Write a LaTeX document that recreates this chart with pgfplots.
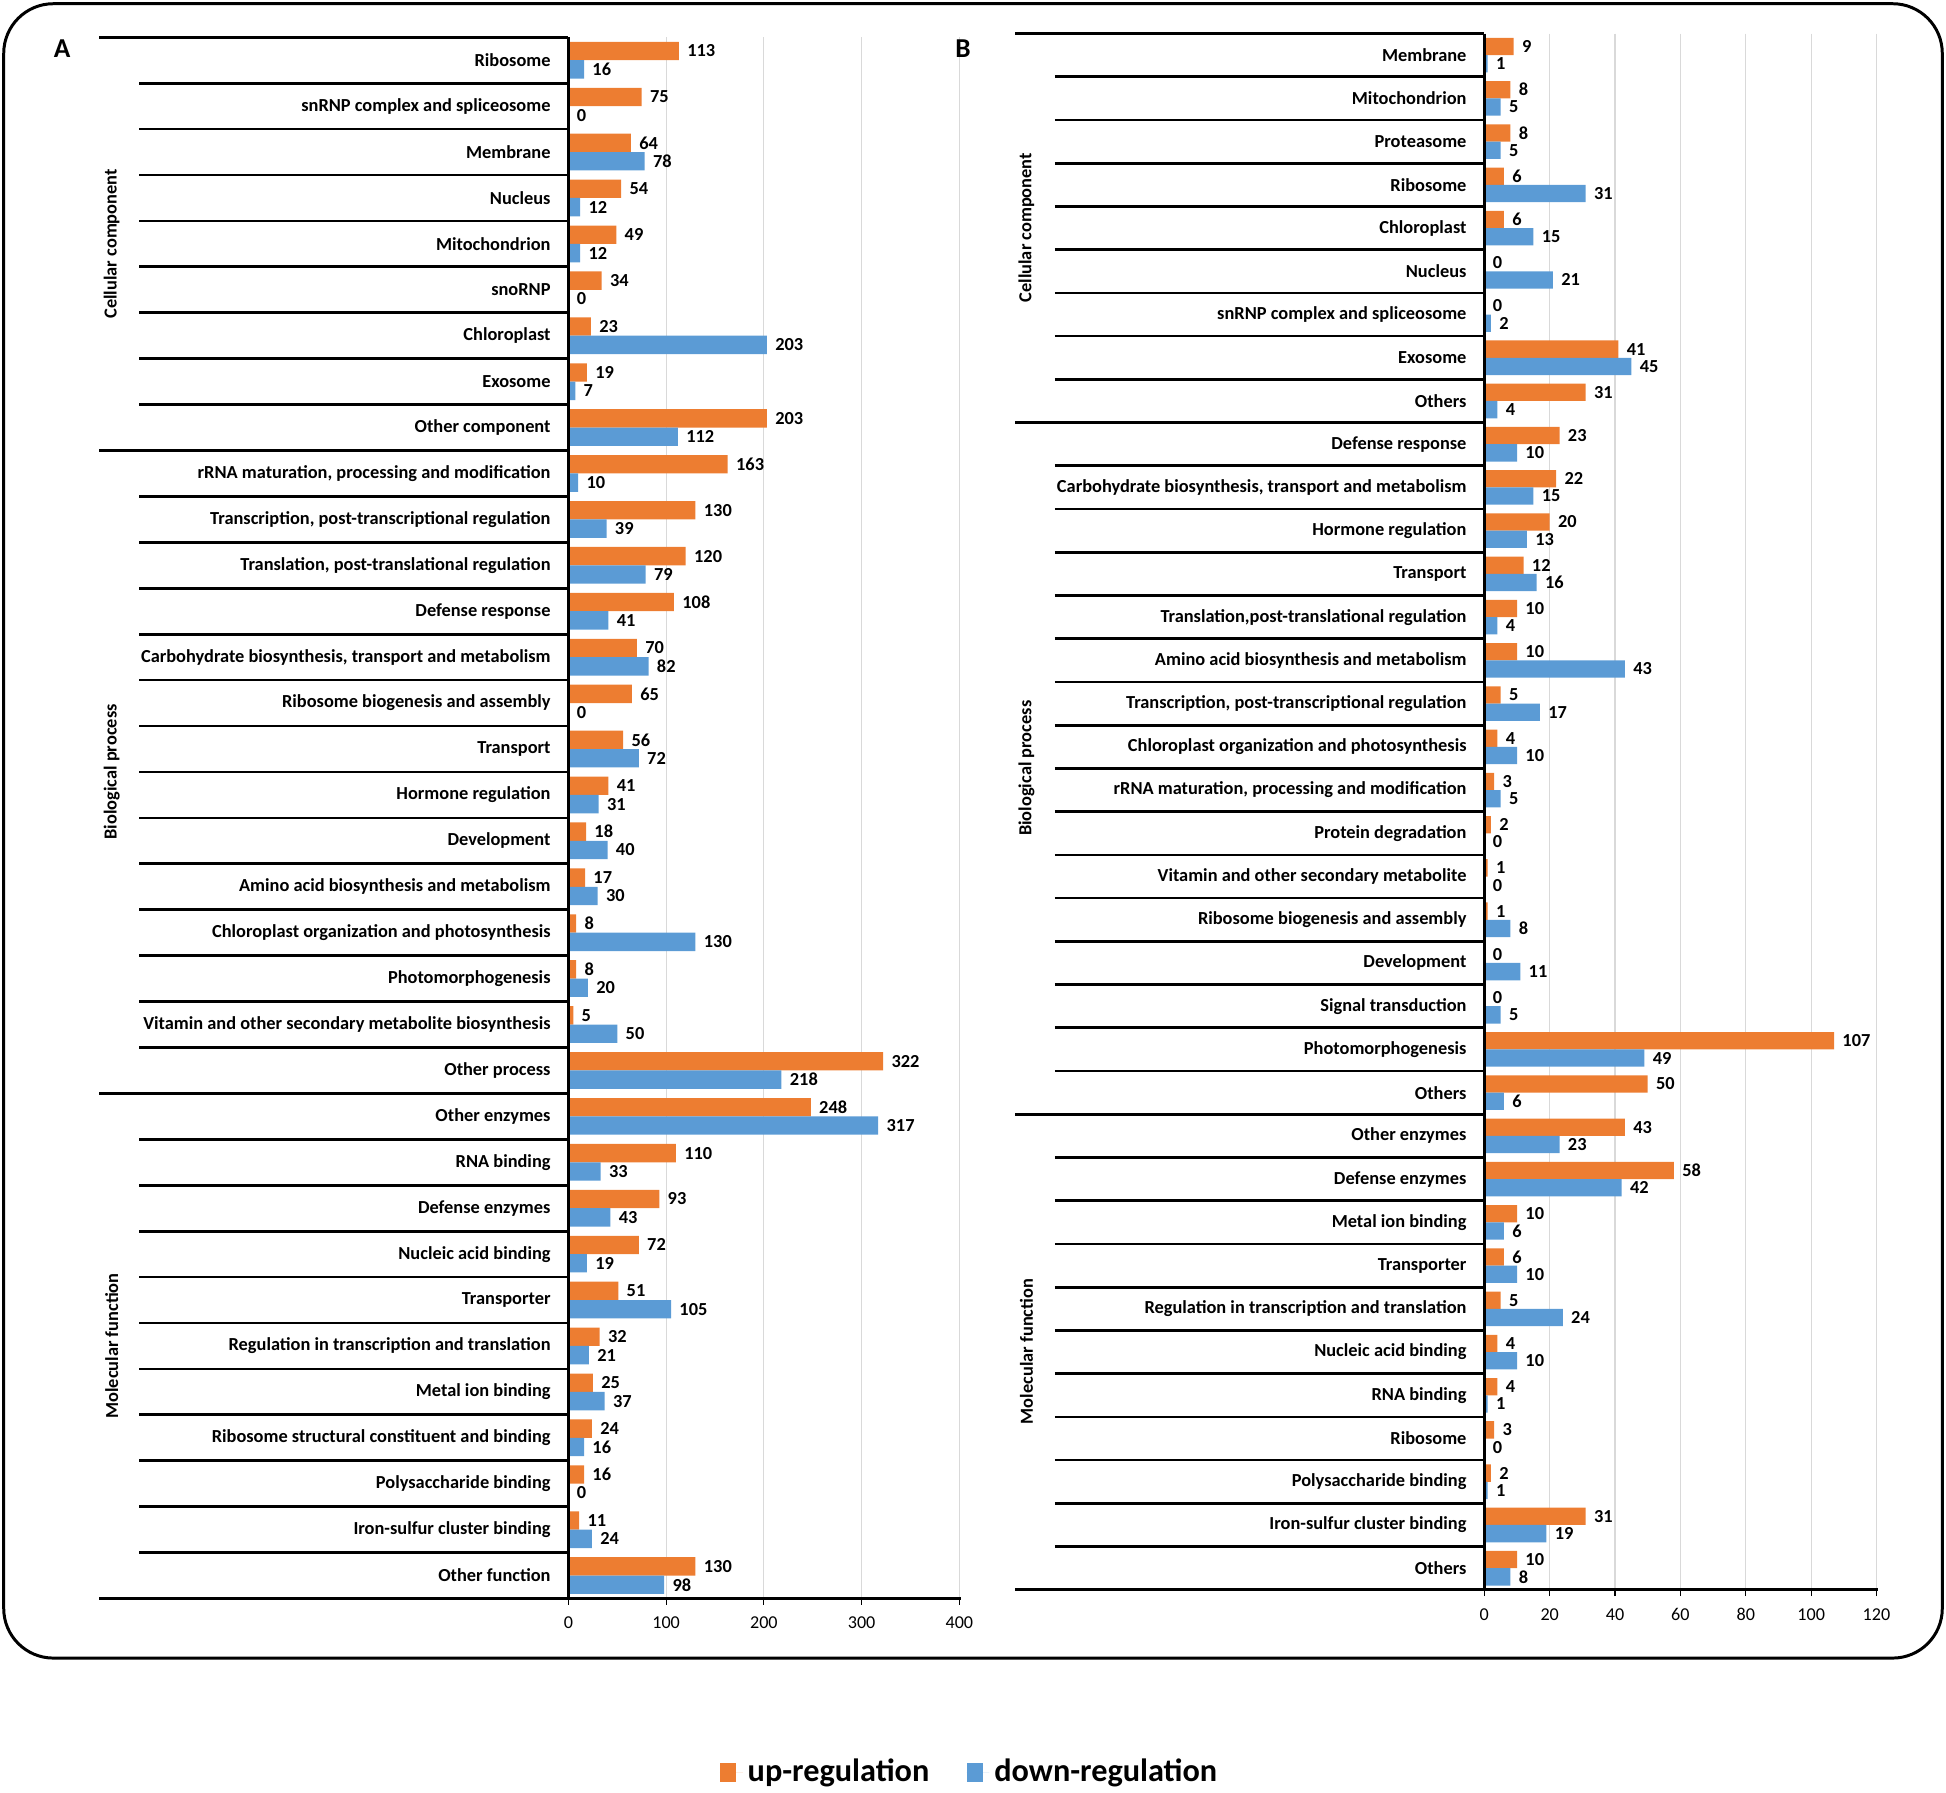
\documentclass[border=0pt]{standalone}
\usepackage{pgfplots}
\usepackage{pgfplotstable}
\pgfplotsset{compat=1.18}
\usepackage{fontspec}
\setmainfont{Carlito}
\definecolor{upc}{HTML}{ED7D31}
\definecolor{downc}{HTML}{5B9BD5}
\definecolor{gridc}{HTML}{D9D9D9}
\pgfplotsset{/pgf/number format/assume math mode=true}
\newcommand\lab{\bfseries\fontsize{7.4}{8.6}\selectfont}

\pgfplotstableread{
idx up down
0 113 16
1 75 0
2 64 78
3 54 12
4 49 12
5 34 0
6 23 203
7 19 7
8 203 112
9 163 10
10 130 39
11 120 79
12 108 41
13 70 82
14 65 0
15 56 72
16 41 31
17 18 40
18 17 30
19 8 130
20 8 20
21 5 50
22 322 218
23 248 317
24 110 33
25 93 43
26 72 19
27 51 105
28 32 21
29 25 37
30 24 16
31 16 0
32 11 24
33 130 98
}\dataA

\pgfplotstableread{
idx up down
0 9 1
1 8 5
2 8 5
3 6 31
4 6 15
5 0 21
6 0 2
7 41 45
8 31 4
9 23 10
10 22 15
11 20 13
12 12 16
13 10 4
14 10 43
15 5 17
16 4 10
17 3 5
18 2 0
19 1 0
20 1 8
21 0 11
22 0 5
23 107 49
24 50 6
25 43 23
26 58 42
27 10 6
28 6 10
29 5 24
30 4 10
31 4 1
32 3 0
33 2 1
34 31 19
35 10 8
}\dataB

\pgfplotsset{
 mybar/.style={
  xbar, scale only axis, y dir=reverse, enlargelimits=false, clip=false,
  axis line style={draw=none},
  bar width=0.4,
  xmajorgrids, grid style={gridc, line width=0.5pt},
  tick align=outside, major tick length=2.5pt,
  xtick pos=lower,
  xtick style={black, line width=0.5pt},
  ytick style={draw=none},
  xticklabel style={font=\fontsize{7.3}{8}\selectfont, yshift=-1.5pt},
  yticklabel style={font=\lab, inner sep=0pt, xshift=-4.5pt},
  point meta=x,
  nodes near coords,
  every node near coord/.append style={font=\lab, inner sep=1pt, xshift=2.2pt},
 },
 sqleg/.style={legend image code/.code={\fill[##1, draw=none] (0pt,-3.75pt) rectangle (6.6pt,3.75pt); \path (0pt,0pt) -- (9.2pt,0pt);}},
}

\begin{document}
\begin{tikzpicture}
\path[use as bounding box] (0,0) rectangle (784pt,-722pt);

\begin{axis}[mybar, at={(229pt,-15pt)}, anchor=north west,
  width=157.5pt, height=629pt, xmin=0, xmax=400, ymin=-0.5, ymax=33.5,
  xtick={0,100,...,400}, ytick={0,...,33},
  yticklabels={Ribosome, snRNP complex and spliceosome, Membrane, Nucleus, Mitochondrion, snoRNP, Chloroplast, Exosome, Other component, {rRNA maturation, processing and modification}, {Transcription, post-transcriptional regulation}, {Translation, post-translational regulation}, Defense response, {Carbohydrate biosynthesis, transport and metabolism}, Ribosome biogenesis and assembly, Transport, Hormone regulation, Development, Amino acid biosynthesis and metabolism, Chloroplast organization and photosynthesis, Photomorphogenesis, Vitamin and other secondary metabolite biosynthesis, Other process, Other enzymes, RNA binding, Defense enzymes, Nucleic acid binding, Transporter, Regulation in transcription and translation, Metal ion binding, Ribosome structural constituent and binding, Polysaccharide binding, Iron-sulfur cluster binding, Other function},
  legend columns=2,
  legend style={at={(1.030,-0.1113)}, anchor=center, draw=none, fill=none,
    font=\bfseries\fontsize{13}{15}\selectfont,
    /tikz/every even column/.append style={column sep=13pt}},
]
\addplot[fill=upc, draw=none, bar shift=-0.2, sqleg] table[x=up, y=idx]{\dataA};
\addplot[fill=downc, draw=none, bar shift=0.2, sqleg] table[x=down, y=idx]{\dataA};
\legend{up-regulation, down-regulation}
\end{axis}

\begin{axis}[mybar, at={(598pt,-13.5pt)}, anchor=north west,
  width=158pt, height=627pt, xmin=0, xmax=120, ymin=-0.5, ymax=35.5,
  xtick={0,20,...,120}, ytick={0,...,35},
  yticklabels={Membrane, Mitochondrion, Proteasome, Ribosome, Chloroplast, Nucleus, snRNP complex and spliceosome, Exosome, Others, Defense response, {Carbohydrate biosynthesis, transport and metabolism}, Hormone regulation, Transport, {Translation,post-translational regulation}, Amino acid biosynthesis and metabolism, {Transcription, post-transcriptional regulation}, Chloroplast organization and photosynthesis, {rRNA maturation, processing and modification}, Protein degradation, Vitamin and other secondary metabolite, Ribosome biogenesis and assembly, Development, Signal transduction, Photomorphogenesis, Others, Other enzymes, Defense enzymes, Metal ion binding, Transporter, Regulation in transcription and translation, Nucleic acid binding, RNA binding, Ribosome, Polysaccharide binding, Iron-sulfur cluster binding, Others},
]
\addplot[fill=upc, draw=none, bar shift=-0.2] table[x=up, y=idx]{\dataB};
\addplot[fill=downc, draw=none, bar shift=0.2] table[x=down, y=idx]{\dataB};
\end{axis}

\begin{scope}[x=0.5pt, y=-0.5pt]
 \draw[line width=1.2pt, rounded corners=20pt] (3,3) rectangle (1565,1336);
 \tikzset{sepline/.style={line width=1.1pt, black}}
 % panel A separators
 \foreach \i in {1,...,33} \draw[sepline] (112,{30+\i*37}) -- (458,{30+\i*37});
 \foreach \i in {0,9,23} \draw[sepline] (80,{30+\i*37}) -- (458,{30+\i*37});
 \draw[sepline] (80,1288) -- (774,1288);
 \draw[sepline] (458,30) -- (458,1288);
 % panel B separators
 \foreach \i in {1,...,35} \draw[sepline] (850,{27+\i*34.833}) -- (1196,{27+\i*34.833});
 \foreach \i in {0,9,25} \draw[sepline] (818,{27+\i*34.833}) -- (1196,{27+\i*34.833});
 \draw[sepline] (818,1281) -- (1513,1281);
 \draw[sepline] (1196,27) -- (1196,1281);
 % group labels
 \node[rotate=90, font=\lab] at (90,196.5) {Cellular component};
 \node[rotate=90, font=\lab] at (90,622) {Biological process};
 \node[rotate=90, font=\lab] at (90,1084.5) {Molecular function};
 \node[rotate=90, font=\lab] at (827,183.5) {Cellular component};
 \node[rotate=90, font=\lab] at (827,619) {Biological process};
 \node[rotate=90, font=\lab] at (827,1089) {Molecular function};
 % panel letters
 \node[font=\bfseries\fontsize{11}{13}\selectfont] at (50,39) {A};
 \node[font=\bfseries\fontsize{11}{13}\selectfont] at (776,39) {B};
\end{scope}
\end{tikzpicture}
\end{document}
